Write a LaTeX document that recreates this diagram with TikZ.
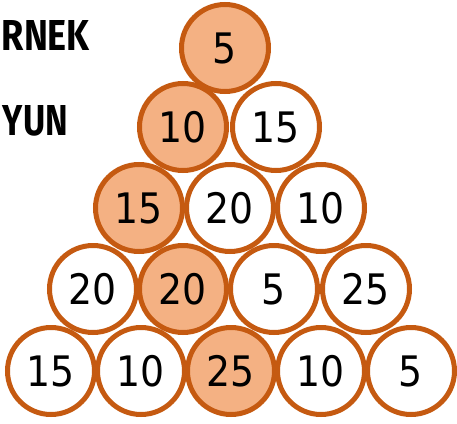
\documentclass[tikz,border=0pt]{standalone}
\usepackage{fontspec}
\newfontfamily\numfont{DejaVu Sans Condensed}
\newfontfamily\titlefont{Fira Sans}
\definecolor{ringc}{HTML}{C55A11}
\definecolor{fillc}{HTML}{F4B183}
\tikzset{
  ball/.style={circle, draw=ringc, line width=5pt, minimum size=87pt, inner sep=0pt,
    fill=white, font=\numfont\fontsize{42}{42}\selectfont},
  hot/.style={ball, fill=fillc},
  title/.style={anchor=base east, inner sep=0pt, font=\titlefont\bfseries\fontsize{40}{40}\selectfont}
}
\begin{document}
\begin{tikzpicture}[x=1pt,y=-1pt]
\useasboundingbox (0,0) rectangle (457,423);
\node[title] (t1) at (90,50) {\resizebox{88pt}{30pt}{RNEK}};
\node[title] (t2) at (68,135) {\resizebox{65pt}{30pt}{YUN}};
% row 1
\node[hot] (a1) at (225,48) {5};
% row 2
\node[hot]  (b1) at (183,127) {10};
\node[ball] (b2) at (276,127) {15};
% row 3
\node[hot]  (c1) at (139,208) {15};
\node[ball] (c2) at (230,208) {20};
\node[ball] (c3) at (321,208) {10};
% row 4
\node[ball] (d1) at (93,289) {20};
\node[hot]  (d2) at (183,289) {20};
\node[ball] (d3) at (274,289) {5};
\node[ball] (d4) at (366,289) {25};
% row 5
\node[ball] (e1) at (51,371) {15};
\node[ball] (e2) at (141,371) {10};
\node[hot]  (e3) at (231,371) {25};
\node[ball] (e4) at (321,371) {10};
\node[ball] (e5) at (411,371) {5};
\end{tikzpicture}
\end{document}
